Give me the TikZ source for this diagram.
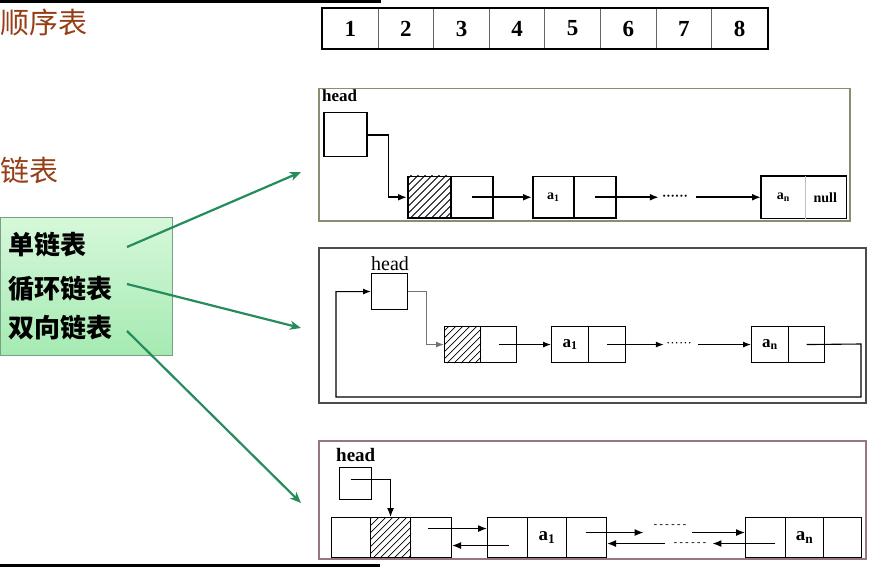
\documentclass[tikz,border=0pt]{standalone}
\usepackage{fontspec}
\setmainfont{Liberation Serif}
\newfontfamily\cjk{Noto Sans CJK SC}
\usetikzlibrary{arrows.meta,calc}
\definecolor{titlebrown}{RGB}{150,62,22}
\definecolor{arrowgreen}{RGB}{38,140,92}
\definecolor{boxtop}{RGB}{214,248,218}
\definecolor{boxbot}{RGB}{165,234,178}
\definecolor{boxedge}{RGB}{120,160,130}
\definecolor{frameone}{RGB}{140,140,115}
\definecolor{framethree}{RGB}{150,118,132}
\newcommand{\hatchcell}[1]{%
  \begin{scope}
    \clip (#1.south west) rectangle (#1.north east);
    \foreach \k in {-60,-53,...,60}
      \draw[line width=0.8pt] ($(#1.south west)+(\k,0)$) -- ++(60,-60);
  \end{scope}}
\newcommand{\fs}[1]{\fontsize{#1}{#1}\selectfont}
\begin{document}
\begin{tikzpicture}[x=1pt,y=-1pt,
  arrcell/.style={draw=black!60,line width=1pt,inner sep=0pt,anchor=north west,minimum width=55.6,minimum height=40,font=\bfseries\fs{23}},
  cA/.style={draw,line width=1.5pt,inner sep=0pt,anchor=north west,minimum width=42,minimum height=41,font=\bfseries\fs{14}},
  cB/.style={draw,line width=1.1pt,inner sep=0pt,anchor=north west,minimum width=36,minimum height=36,font=\bfseries\fs{17}},
  cC/.style={draw,line width=1.1pt,inner sep=0pt,anchor=north west,minimum width=40,minimum height=40,font=\bfseries\fs{19}},
  arA/.style={line width=1.8pt,-{Latex[length=9pt,width=7pt]}},
  arB/.style={line width=1.1pt,-{Latex[length=8pt,width=6pt]}},
  arC/.style={line width=1.2pt,-{Latex[length=9pt,width=7pt]}},
  garrow/.style={arrowgreen,line width=2.2pt,-{Stealth[length=11pt,width=9pt,inset=3pt]}},
  dotsA/.style={inner sep=0pt,font=\bfseries\fs{13}},
  dashC/.style={inner sep=0pt,font=\bfseries\fs{10}},
  title/.style={anchor=west,inner sep=0pt,text=titlebrown,font=\cjk\fs{29}},
  kind/.style={anchor=west,inner sep=0pt,font=\cjk\bfseries\fs{26}}]
\useasboundingbox (0,0) rectangle (876,567);
\fill[white] (0,0) rectangle (876,567);
% black bars
\fill[black] (0,0) rectangle (381,3);
\fill[black] (0,564) rectangle (380,567);
% titles
\node[title] (t1) at (0,22) {顺序表};
\node[title] (t2) at (0,170) {链表};
% array
\foreach \i in {1,...,8}
  \node[arrcell] (c\i) at ({322+(\i-1)*55.6},8) {\i};
\draw[line width=2pt] (c1.north west) rectangle (c8.south east);
% green box
\node[draw=boxedge,line width=1pt,top color=boxtop,bottom color=boxbot,anchor=north west,minimum width=172,minimum height=138,inner sep=0pt] (gbox) at (0,217) {};
\node[kind] (k1) at (8,245) {单链表};
\node[kind] (k2) at (8,289) {循环链表};
\node[kind] (k3) at (8,328) {双向链表};
\coordinate (s1) at (127,247);
\coordinate (e1) at (301,172);
\coordinate (s2) at (127,284);
\coordinate (e2) at (301,328);
\coordinate (s3) at (127,331);
\coordinate (e3) at (301,503);
\draw[garrow] (s1) -- (e1);
\draw[garrow] (s2) -- (e2);
\draw[garrow] (s3) -- (e3);
% ---------- panel 1 ----------
\node[draw=frameone,line width=1.5pt,anchor=north west,minimum width=531,minimum height=132,inner sep=0pt] (P1) at (318,88) {};
\node[anchor=north west,inner sep=0pt,font=\bfseries\fs{17}] (hd1) at (322,90) {head};
\node[cA,minimum width=43,minimum height=44] (h1) at (323,112) {};
\node[cA,minimum width=43] (n1a) at (407,176) {};
\hatchcell{n1a}
\node[cA] (n1b) at (450,176) {};
\node[cA,minimum width=41] (a11) at (532,176) {a\textsubscript{1}};
\node[cA] (a1p1) at (573,176) {};
\node[cA,draw=none,minimum width=43] (an1) at (761,176) {a\textsubscript{n}};
\node[cA,draw=none,minimum width=41] (nl1) at (804,176) {null};
\draw[line width=1.5pt] (an1.north west) rectangle (nl1.south east);
\draw[black!25,line width=1.5pt] (an1.north east) -- (an1.south east);
\draw[arA] (h1.east) -- ++(21,0) |- (n1a.west);
\draw[arA] (n1b.center) -- (a11.west);
\node[dotsA] (d1) at (675,198) {······};
\draw[arA] (a1p1.center) -- ($(a1p1.center -| d1.west)+(-3,0)$);
\draw[arA] ($(an1.west -| d1.east)+(8,0)$) -- (an1.west);
% ---------- panel 2 ----------
\node[draw=black!70,line width=1.6pt,anchor=north west,minimum width=547,minimum height=155,inner sep=0pt] (P2) at (318,247) {};
\node[anchor=south,inner sep=0pt,font=\fs{20}] (hd2) at (390,271) {head};
\node[cB] (h2) at (371,273) {};
\node[cB] (n2a) at (444,326) {};
\hatchcell{n2a}
\node[cB] (n2b) at (480,326) {};
\node[cB,minimum width=37] (a12) at (551,326) {a\textsubscript{1}};
\node[cB,minimum width=37] (a1p2) at (588,326) {};
\node[cB,minimum width=37] (an2) at (751,326) {a\textsubscript{n}};
\node[cB] (anp2) at (788,326) {};
\draw[arB,black!55] (h2.east) -- ++(18,0) |- (n2a.west);
\draw[arB] (n2b.center) -- (a12.west);
\node[dotsA,font=\fs{13}] (d2) at (679,345) {······};
\draw[arB] (a1p2.center) -- ($(a1p2.center -| d2.west)+(-2,0)$);
\draw[arB] ($(an2.west -| d2.east)+(6,0)$) -- (an2.west);
\draw[arB] (anp2.center) -- (861,344) |- (336,397) |- (h2.west);
% ---------- panel 3 ----------
\node[draw=framethree,line width=2pt,anchor=north west,minimum width=547,minimum height=118,inner sep=0pt] (P3) at (318,440) {};
\node[anchor=south west,inner sep=0pt,font=\bfseries\fs{19}] (hd3) at (336,462) {head};
\node[cC,minimum width=32,minimum height=32] (h3) at (339,467) {};
\node[cC,minimum width=39] (n3a) at (331,517) {};
\node[cC] (n3b) at (370,517) {};
\hatchcell{n3b}
\node[cC,minimum width=41] (n3c) at (410,517) {};
\node[cC] (a13a) at (487,517) {};
\node[cC,minimum width=39] (a13b) at (527,517) {a\textsubscript{1}};
\node[cC] (a13c) at (566,517) {};
\node[cC] (an3a) at (745,517) {};
\node[cC,minimum width=38] (an3b) at (785,517) {a\textsubscript{n}};
\node[cC,minimum width=38] (an3c) at (823,517) {};
\draw[arC] ($(h3.center)+(-5,-4)$) -| (n3b.north);
\draw[arC] ($(n3c.center)+(-3,-9)$) -- ($(a13a.west)+(0,-9)$);
\draw[arC] ($(a13a.center)+(1,8)$) -- ($(n3c.east)+(0,8)$);
\node[dashC] (d3f) at (670,526) {-~-~-~-~-~-};
\node[dashC] (d3b) at (690,544) {-~-~-~-~-~-};
\draw[arC] ($(a13c.center)+(-1,-5)$) -- ($(a13c.center -| d3f.west)+(-10,-5)$);
\draw[arC] ($(a13c.center -| d3f.east)+(6,-5)$) -- ($(an3a.west)+(0,-5)$);
\draw[arC] ($(an3a.center)+(9,6)$) -- ($(an3a.center -| d3b.east)+(6,6)$);
\draw[arC] ($(an3a.center -| d3b.west)+(-9,6)$) -- ($(a13c.east)+(0,6)$);
\end{tikzpicture}
\end{document}
